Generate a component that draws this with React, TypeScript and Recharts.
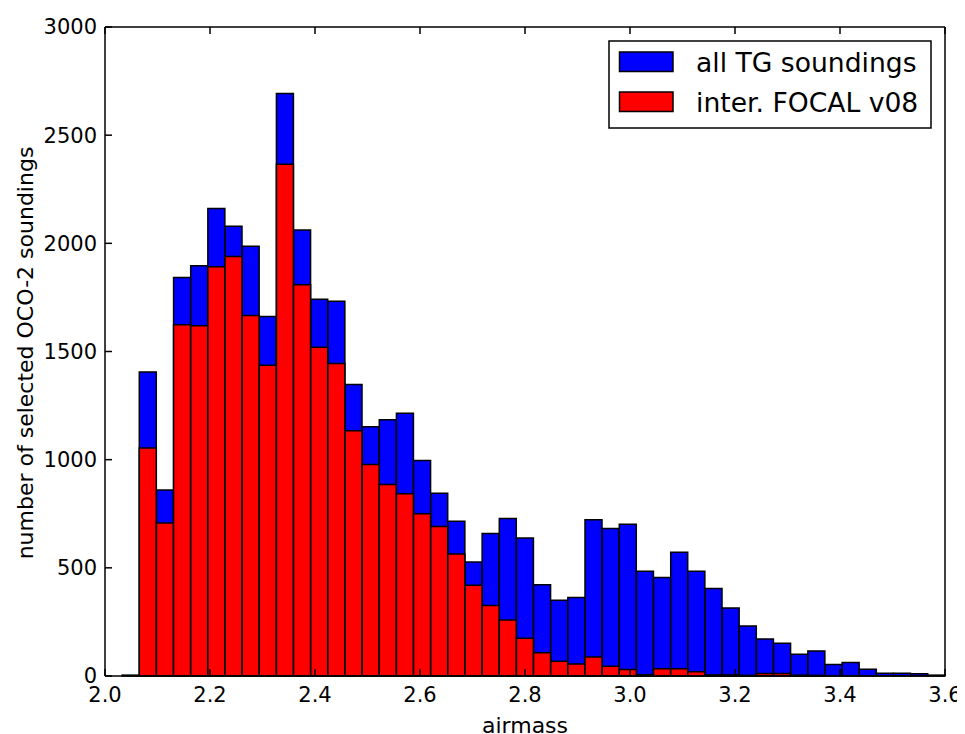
import React from 'react';
import { BarChart, Bar, XAxis, YAxis, Legend } from 'recharts';

// bin centres of the airmass histogram (49 bins between 2.0 and 3.6)
const airmassBins = [
  2.016, 2.049, 2.082, 2.114, 2.147, 2.180, 2.212, 2.245, 2.278, 2.310,
  2.343, 2.376, 2.408, 2.441, 2.473, 2.506, 2.539, 2.571, 2.604, 2.637,
  2.669, 2.702, 2.735, 2.767, 2.800, 2.833, 2.865, 2.898, 2.931, 2.963,
  2.996, 3.029, 3.061, 3.094, 3.127, 3.159, 3.192, 3.224, 3.257, 3.290,
  3.322, 3.355, 3.388, 3.420, 3.453, 3.486, 3.518, 3.551, 3.584,
];

const allSoundings = [
  0, 4, 1405, 860, 1842, 1896, 2161, 2079, 1987, 1662,
  2693, 2062, 1741, 1732, 1348, 1152, 1185, 1215, 996, 845,
  715, 527, 659, 728, 638, 422, 350, 363, 722, 682,
  702, 484, 455, 572, 484, 405, 314, 231, 171, 151,
  100, 116, 53, 62, 31, 13, 13, 10, 4,
];

const focalSoundings = [
  0, 0, 1054, 707, 1624, 1619, 1892, 1939, 1666, 1436,
  2366, 1808, 1520, 1445, 1134, 978, 885, 842, 750, 691,
  564, 420, 326, 259, 174, 108, 68, 55, 88, 45,
  30, 6, 33, 33, 20, 5, 5, 3, 11, 11,
  4, 3, 0, 0, 0, 0, 0, 0, 0,
];

const seriesNames = ['all TG soundings', 'inter. FOCAL v08'];
const seriesColors = ['#0000ff', '#ff0000'];

const xTicks = [2.0, 2.2, 2.4, 2.6, 2.8, 3.0, 3.2, 3.4, 3.6];
const yTicks = [0, 500, 1000, 1500, 2000, 2500, 3000];

const data = airmassBins.map((airmass, i) => ({
  airmass,
  all: allSoundings[i],
  focal: focalSoundings[i],
}));

const noLabel = () => null;

// matplotlib-style legend box, top right
const LegendBox = () => (
  <svg width={324} height={90} style={{ display: 'block' }}>
    <rect x={1} y={1} width={322} height={87} fill="#fff" stroke="#000" strokeWidth={1.5} />
    {seriesNames.map((name, i) => (
      <g key={name}>
        <rect
          x={11.5}
          y={12 + i * 40}
          width={53.5}
          height={19.5}
          fill={seriesColors[i]}
          stroke="#000"
          strokeWidth={1.5}
        />
        <text x={88} y={31.5 + i * 40} fontSize={26.6} fill="#000">
          {name}
        </text>
      </g>
    ))}
  </svg>
);

export default function App() {
  return (
    <div style={{ width: 957, height: 726, fontFamily: '"DejaVu Sans", sans-serif' }}>
      <BarChart
        width={957}
        height={726}
        data={data}
        margin={{ top: 18, right: 19, bottom: 0, left: 0 }}
        barCategoryGap={0}
        barGap={0}
      >
        <XAxis
          xAxisId="bottom"
          dataKey="airmass"
          type="number"
          domain={[2.0, 3.6]}
          allowDataOverflow
          ticks={xTicks}
          interval={0}
          tickFormatter={(v: number) => v.toFixed(1)}
          height={58}
          tickSize={-7}
          tickMargin={18}
          stroke="#000"
          strokeWidth={1.5}
          tick={{ fill: '#000', fontSize: 21 }}
          label={{
            content: () => (
              <text x={517} y={724.5} textAnchor="middle" fontSize={22} fill="#000">
                airmass
              </text>
            ),
          }}
        />
        <XAxis
          xAxisId="top"
          orientation="top"
          dataKey="airmass"
          type="number"
          domain={[2.0, 3.6]}
          allowDataOverflow
          ticks={xTicks}
          interval={0}
          height={1}
          tickSize={-7}
          stroke="#000"
          strokeWidth={1.5}
          tick={noLabel}
        />
        <XAxis xAxisId="all" dataKey="airmass" type="category" hide height={0} />
        <XAxis xAxisId="focal" dataKey="airmass" type="category" hide height={0} />
        <YAxis
          yAxisId="left"
          domain={[0, 3000]}
          ticks={yTicks}
          interval={0}
          width={97}
          tickSize={-7}
          tickMargin={15}
          stroke="#000"
          strokeWidth={1.5}
          tick={{ fill: '#000', fontSize: 21 }}
          label={{
            content: () => (
              <text
                x={25}
                y={345}
                transform="rotate(-90, 25, 345)"
                textAnchor="middle"
                fontSize={22}
                fill="#000"
              >
                number of selected OCO-2 soundings
              </text>
            ),
          }}
        />
        <YAxis
          yAxisId="right"
          orientation="right"
          domain={[0, 3000]}
          ticks={yTicks}
          interval={0}
          width={1}
          tickSize={-7}
          stroke="#000"
          strokeWidth={1.5}
          tick={noLabel}
        />
        <Legend
          layout="vertical"
          align="center"
          verticalAlign="middle"
          wrapperStyle={{ left: 600, top: 32, width: 324, height: 90 }}
          content={() => <LegendBox />}
        />
        <Bar
          xAxisId="all"
          yAxisId="left"
          dataKey="all"
          name={seriesNames[0]}
          fill={seriesColors[0]}
          stroke="#000"
          strokeWidth={1.5}
          isAnimationActive={false}
        />
        <Bar
          xAxisId="focal"
          yAxisId="left"
          dataKey="focal"
          name={seriesNames[1]}
          fill={seriesColors[1]}
          stroke="#000"
          strokeWidth={1.5}
          isAnimationActive={false}
        />
      </BarChart>
    </div>
  );
}
